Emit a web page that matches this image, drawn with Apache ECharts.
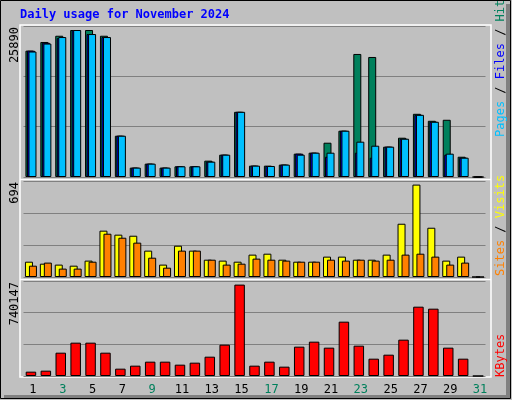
<!DOCTYPE html>
<html>
<head>
<meta charset="utf-8">
<script src="https://cdn.jsdelivr.net/npm/echarts@6/dist/echarts.min.js"></script>
<style>html,body{margin:0;padding:0;background:#C0C0C0}#chart{width:512px;height:400px}</style>
</head>
<body>
<div id="chart"></div>
<script>
// Daily usage for November 2024 (webalizer style)

const days = [];
for (let d = 1; d <= 31; d++) days.push(String(d));
const weekendDays = [2, 3, 9, 10, 16, 17, 23, 24, 30, 31];

const hits  = [22250,23780,24880,25890,25890,24880,7270,1650,2350,1650,1880,1880,2880,3930,11480,2000,2000,2180,4110,4280,6040,8150,21670,21140,5340,6920,11130,9900,10080,3570,0];
const files = [22250,23650,24470,25890,25180,24650,7270,1650,2350,1650,1880,1880,2700,3930,11480,2000,1940,2180,4110,4280,3570,8150,4280,3400,5340,6740,10950,9730,3930,3400,0];
const pages = [22100,23500,24650,25890,25180,24650,7270,1650,2350,1650,1880,1880,2700,3930,11480,2000,1940,2180,3930,4280,4280,8150,6220,5510,5340,6740,10950,9730,4110,3400,0];

const visits = [115,100,93,85,123,348,318,310,198,93,235,198,130,123,115,168,175,130,115,115,153,153,130,130,168,400,694,370,123,153,0];
const sites  = [85,108,63,63,115,325,295,258,145,70,198,198,130,93,100,138,130,123,115,115,130,123,130,123,130,168,175,153,93,108,0];

const kbytes = [35100,43200,188900,269900,269900,188900,59400,83700,116100,116100,91800,108000,156500,253700,740147,83700,116100,75600,237500,278000,229400,440000,245600,140300,172700,294200,561400,545200,229400,140300,0];

const maxLabels = ["25890", "694", "740147"];

const chart = echarts.init(document.getElementById("chart"));
const mono = "DejaVu Sans Mono";

const panels = [
  {top: 26, height: 151, max: 25890 * 151 / 147},
  {top: 181, height: 96, max: 694 * 96 / 92.4},
  {top: 281, height: 95, max: 740147 * 95 / 91.4}
];

const grids = panels.map(p => ({left: 23.5, right: 26.5, top: p.top, height: p.height}));

const xAxes = panels.map((p, i) => ({
  type: "category", gridIndex: i, data: days,
  axisLine: {show: false}, axisTick: {show: false},
  axisLabel: i < 2 ? {show: false} : {
    show: true, fontFamily: mono, fontSize: 12, margin: 8, padding: [0, 0, 0, 4],
    color: (v) => weekendDays.includes(+v) ? "#00805C" : "#000000"
  }
}));

const yAxes = panels.map((p, i) => ({
  type: "value", gridIndex: i, min: 0, max: p.max, interval: p.max / 3,
  axisLabel: {show: false}, axisLine: {show: false}, axisTick: {show: false},
  splitLine: {show: true, lineStyle: {color: "#808080", width: 1}}
}));

const border = {borderColor: "#000", borderWidth: 1};
function bar(name, data, color, axis, w, gap) {
  return {name, type: "bar", xAxisIndex: axis, yAxisIndex: axis, data,
    barWidth: w, barGap: gap, itemStyle: Object.assign({color}, border), silent: true};
}

function sideText(x, y, parts) {
  return {type: "text", x, y, rotation: Math.PI / 2,
    style: {text: parts.map(p => "{" + p[0] + "|" + p[1] + "}").join(""),
      align: "left", verticalAlign: "middle", font: "12px " + mono,
      rich: Object.fromEntries(parts.map(p => [p[0], {fill: p[2], font: "12px " + mono}]))}};
}

const graphic = [
  {type: "rect", shape: {x: 0.5, y: 0.5, width: 510, height: 398}, style: {fill: "none", stroke: "#000"}},
  {type: "line", shape: {x1: 508, y1: 4, x2: 508, y2: 397}, style: {stroke: "#808080", lineWidth: 4}},
  {type: "line", shape: {x1: 4, y1: 396.5, x2: 510, y2: 396.5}, style: {stroke: "#808080", lineWidth: 3}},
  {type: "rect", shape: {x: 20, y: 25, width: 471, height: 352}, style: {fill: "none", stroke: "#fff", lineWidth: 1.5}},
  {type: "line", shape: {x1: 20, y1: 179.5, x2: 491, y2: 179.5}, style: {stroke: "#fff", lineWidth: 1.5}},
  {type: "line", shape: {x1: 20, y1: 279.5, x2: 491, y2: 279.5}, style: {stroke: "#fff", lineWidth: 1.5}},
  {type: "text", x: 20, y: 15, style: {text: "Daily usage for November 2024", fill: "#0000FF",
    font: "bold 12px " + mono, verticalAlign: "middle"}},
  sideText(501, 137, [["p", "Pages", "#00C0FF"], ["s", " / ", "#000"], ["f", "Files", "#0000FF"], ["t", " / ", "#000"], ["h", "Hits", "#00805C"]]),
  sideText(501, 276, [["a", "Sites", "#FF8000"], ["s", " / ", "#000"], ["v", "Visits", "#FFFF00"]]),
  sideText(501, 377, [["k", "KBytes", "#FF0000"]])
];
panels.forEach((p, i) => {
  graphic.push({type: "text", x: 15, y: p.top + 1, rotation: Math.PI / 2,
    style: {text: maxLabels[i], align: "right", verticalAlign: "middle", fill: "#000", font: "12px " + mono}});
});

const option = {
  backgroundColor: "#C0C0C0",
  animation: false,
  grid: grids,
  xAxis: xAxes,
  yAxis: yAxes,
  series: [
    bar("Hits", hits, "#00805C", 0, 8, "-81%"),
    bar("Files", files, "#0000FF", 0, 8, "-81%"),
    bar("Pages", pages, "#00C0FF", 0, 8, "-81%"),
    bar("Visits", visits, "#FFFF00", 1, 8, "-50%"),
    bar("Sites", sites, "#FF8000", 1, 8, "-50%"),
    bar("KBytes", kbytes, "#FF0000", 2, 10.5, "0%")
  ],
  graphic
};

chart.setOption(option);
</script>
</body>
</html>
